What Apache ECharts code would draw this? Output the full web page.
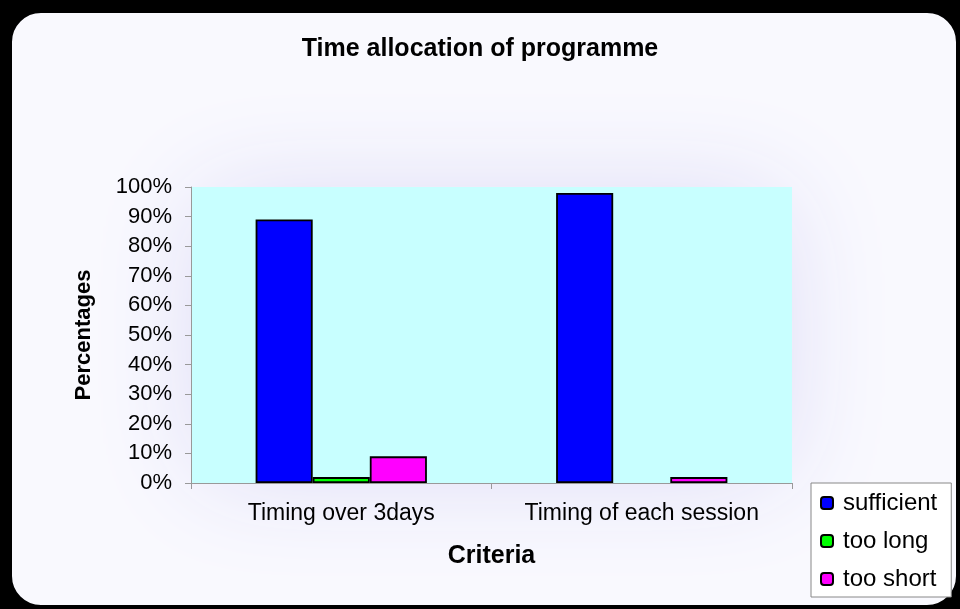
<!DOCTYPE html>
<html>
<head>
<meta charset="utf-8">
<script src="https://cdn.jsdelivr.net/npm/echarts@6/dist/echarts.min.js"></script>
<style>
  html, body { margin: 0; padding: 0; background: #000; }
  #chart { width: 960px; height: 609px; }
</style>
</head>
<body>
<div id="chart"></div>
<script>
const categories = ["Timing over 3days", "Timing of each session"];
const sufficient = [89, 98];
const tooLong = [2, 0];
const tooShort = [9, 2];
const yTicks = [0, 10, 20, 30, 40, 50, 60, 70, 80, 90, 100];

const font = "'Liberation Sans', Arial, sans-serif";

const myChart = echarts.init(document.getElementById("chart"));

const barStyle = (color) => ({
  color: color,
  borderColor: "#000",
  borderWidth: 1.8,
});

const option = {
  backgroundColor: "#000",
  animation: false,
  graphic: [
    {
      type: "rect",
      z: -10,
      shape: { x: 11, y: 12, width: 946, height: 594, r: 30 },
      style: { stroke: "#000", lineWidth: 2, fill: "#f9f9fe" },
    },
    {
      // soft lavender glow behind the plot area
      type: "rect",
      z: -9,
      shape: { x: 200, y: 196, width: 583, height: 278, r: 20 },
      style: {
        fill: "#dcdaf6",
        shadowBlur: 110,
        shadowColor: "#dcdaf6",
      },
    },
  ],
  title: {
    text: "Time allocation of programme",
    left: "center",
    top: 32,
    textStyle: { fontFamily: font, fontSize: 25, fontWeight: "bold", color: "#000" },
  },
  legend: {
    orient: "vertical",
    left: 811,
    top: 483,
    padding: [8, 14, 6, 9],
    itemWidth: 12,
    itemHeight: 12,
    itemGap: 14,
    borderColor: "#888",
    borderWidth: 1,
    backgroundColor: "#fff",
    textStyle: { fontFamily: font, fontSize: 24, color: "#000", padding: [0, 0, 0, 5] },
    data: ["sufficient", "too long", "too short"],
  },
  grid: {
    left: 191,
    right: 168,
    top: 187,
    bottom: 126,
    show: true,
    backgroundColor: "#c8ffff",
    borderWidth: 0,
  },
  xAxis: {
    type: "category",
    data: categories,
    name: "Criteria",
    nameLocation: "middle",
    nameGap: 61,
    nameTextStyle: { fontFamily: font, fontSize: 25, fontWeight: "bold", color: "#000" },
    axisLine: { lineStyle: { color: "#999", width: 1 } },
    axisTick: { show: true, alignWithLabel: false, length: 6, lineStyle: { color: "#999" } },
    axisLabel: { interval: 0, fontFamily: font, fontSize: 23, color: "#000", margin: 19 },
  },
  yAxis: {
    type: "value",
    min: 0,
    max: 100,
    interval: 10,
    name: "Percentages",
    nameLocation: "middle",
    nameGap: 96,
    nameTextStyle: { fontFamily: font, fontSize: 22, fontWeight: "bold", color: "#000" },
    axisLine: { show: true, lineStyle: { color: "#999", width: 1 } },
    axisTick: { show: true, inside: false, length: 6, lineStyle: { color: "#999" } },
    splitLine: { show: false },
    axisLabel: {
      fontFamily: font,
      fontSize: 22,
      color: "#000",
      margin: 19,
      formatter: (v) => (yTicks.includes(v) ? v + "%" : ""),
    },
  },
  series: [
    {
      name: "sufficient",
      type: "bar",
      data: sufficient,
      barGap: "0%",
      barCategoryGap: "43%",
      itemStyle: barStyle("#0000ff"),
    },
    {
      name: "too long",
      type: "bar",
      data: tooLong.map((v) => (v === 0 ? { value: v, itemStyle: { borderWidth: 0 } } : v)),
      itemStyle: barStyle("#00ff00"),
    },
    {
      name: "too short",
      type: "bar",
      data: tooShort,
      itemStyle: barStyle("#ff00ff"),
    },
  ],
};

myChart.setOption(option);
</script>
</body>
</html>
